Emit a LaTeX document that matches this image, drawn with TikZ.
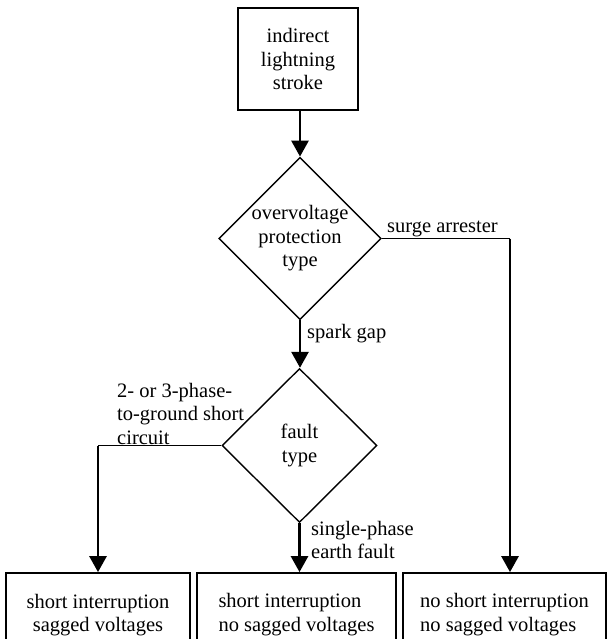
\documentclass[tikz,border=0pt]{standalone}
\usepackage{fontspec}
\setmainfont{Liberation Serif}
\usetikzlibrary{shapes.geometric,arrows.meta}
\begin{document}
\begin{tikzpicture}[x=1pt,y=-1pt,
  every node/.style={font=\rmfamily\fontsize{20.5}{23.5}\selectfont},
  box/.style={draw,line width=1.8pt,inner sep=0pt,align=center},
  dec/.style={draw,diamond,line width=1.4pt,inner sep=0pt,aspect=1,align=center,minimum width=155pt,minimum height=154pt},
  arr/.style={line width=2.8pt,-{Triangle[width=17pt,length=16pt]}},
  hline/.style={line width=1.6pt},
  lab/.style={inner sep=0pt,anchor=base west,align=left}]
\useasboundingbox (0,0) rectangle (608,639);
\node[box,minimum width=120pt,minimum height=102pt] (top) at (298,59) {indirect\\lightning\\stroke};
\node[dec] (d1) at (300,238.5) {overvoltage\\protection\\type};
\node[dec] (d2) at (299.5,445.5) {fault\\type};
\node[box,minimum width=184pt,minimum height=84pt] (b1) at (98,615) {short interruption\\sagged voltages};
\node[box,minimum width=199pt,minimum height=84pt] (b2) at (296.5,615) {\begin{tabular}{@{}l@{}}short interruption\\no sagged voltages\end{tabular}};
\node[box,minimum width=203pt,minimum height=84pt] (b3) at (504.5,615) {\begin{tabular}{@{}l@{}}no short interruption\\no sagged voltages\end{tabular}};
\coordinate (c1) at (510,238.5);
\coordinate (c2) at (98,445.5);
\draw[arr] (top.south -| d1.north) -- (d1.north);
\draw[arr] (d1.south) -- (d1.south |- d2.north);
\draw[hline] (d1.east) -- (c1);
\draw[arr] (c1) -- (c1 |- b3.north);
\draw[hline] (d2.west) -- (c2);
\draw[arr] (c2) -- (c2 |- b1.north);
\draw[arr] (d2.south) -- (d2.south |- b2.north);
\node[lab] (l1) at (387,232) {surge arrester};
\node[lab] (l2) at (307,338) {spark gap};
\node[lab] (l3) at (117,444) {2- or 3-phase-\\to-ground short\\circuit};
\node[lab] (l4) at (311,558.5) {single-phase\\earth fault};
\end{tikzpicture}
\end{document}
